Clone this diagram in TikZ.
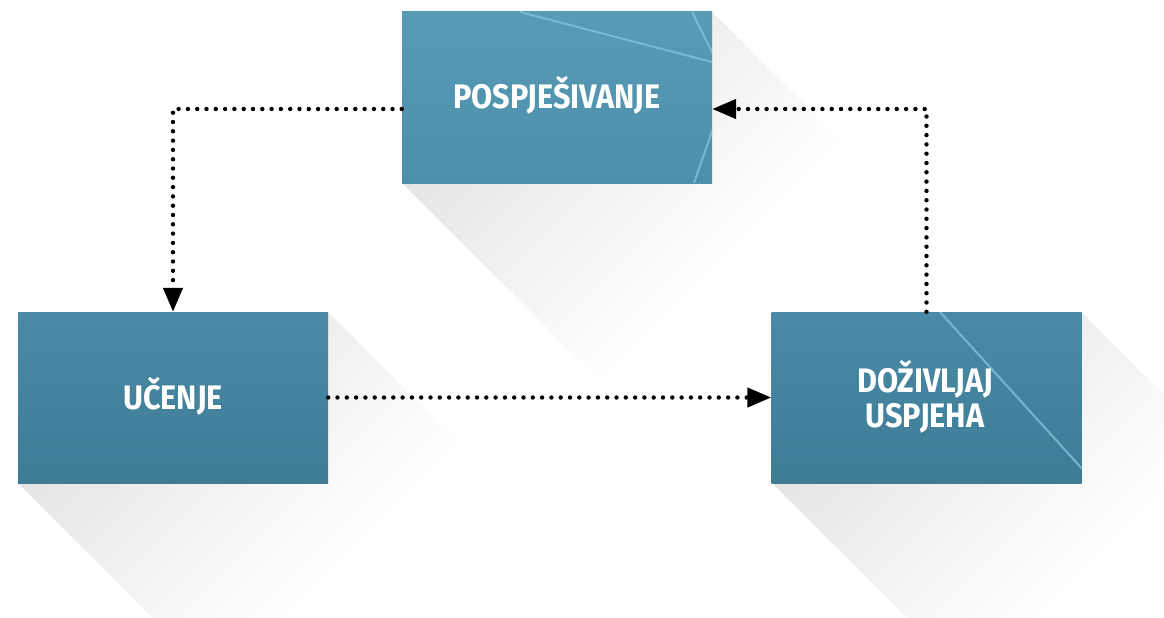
\documentclass[tikz,border=0pt]{standalone}
\usepackage{fontspec}
\usetikzlibrary{arrows.meta}
\newfontfamily\boxfont[FakeStretch=0.9]{Fira Sans}

\definecolor{topA}{RGB}{88,155,183}
\definecolor{botA}{RGB}{77,143,170}
\definecolor{topB}{RGB}{74,138,165}
\definecolor{botB}{RGB}{62,124,150}
\definecolor{streak}{RGB}{128,194,218}

\tikzset{
  panel/.style={draw=none, minimum width=310pt, minimum height=171pt, inner sep=0pt},
  panelA/.style={panel, top color=topA, bottom color=botA},
  panelB/.style={panel, top color=topB, bottom color=botB},
  label/.style={text=white, font=\boxfont\bfseries\fontsize{34}{35}\selectfont, align=center, inner sep=0pt},
  conn/.style={line width=4.4pt, line cap=round, dash pattern=on 0pt off 9.3pt,
               -{Triangle[length=24pt,width=19pt]}},
  streakline/.style={streak, line width=2pt, opacity=0.8}
}

% long shadow of a panel with corners (#1,#2) top left and (#3,#4) bottom right:
% a 45 degree extrusion, lightened in diagonal bands away from the top left corner
\newcommand\longshadow[4]{%
  \begin{scope}
    \clip (#1,#4) -- ({#1+260},{#4+260}) -- ({#3+260},{#4+260}) -- ({#3+260},{#2+260})
          -- (#3,#2) -- (#3,#4) -- cycle;
    \foreach \s in {0,8,...,560}{%
      \pgfmathtruncatemacro\gv{218+0.066*\s}%
      \pgfmathsetmacro\ka{#1+#2+\s}%
      \pgfmathsetmacro\kb{#1+#2+\s+8.6}%
      \fill[color={rgb,255:red,\gv;green,\gv;blue,\gv}]
        ({\ka-#2+20},{#2-20}) -- ({\kb-#2+20},{#2-20})
        -- ({\kb-#2-620},{#2+620}) -- ({\ka-#2-620},{#2+620}) -- cycle;
    }
  \end{scope}}

\begin{document}
\begin{tikzpicture}[x=1pt, y=-1pt]
\useasboundingbox (0,0) rectangle (1164,618);
\begin{scope}
\clip (0,0) rectangle (1164,618);
\longshadow{402}{12}{712}{183}
\longshadow{18}{312}{328}{483}
\longshadow{772}{312}{1081}{483}
\end{scope}

% panels
\node[panelA] (pos) at (557,97.5) {};
\node[panelB] (uce) at (173,397.5) {};
\node[panelB] (doz) at (926.5,397.5) {};

% light streaks across the panels
\begin{scope}
\clip (pos.south west) rectangle (pos.north east);
\draw[streakline] (520,12) -- (712,62);
\draw[streakline] (692,12) -- (716,60);
\draw[streakline] (716,120) -- (694,183);
\end{scope}
\begin{scope}
\clip (doz.south west) rectangle (doz.north east);
\draw[streakline] (940,312) -- (1085,472);
\end{scope}

% labels
\node[label] (posT) at (557,95) {POSPJEŠIVANJE};
\node[label] (uceT) at (173,396) {UČENJE};
\node[label] (dozT) at (925,397) {DOŽIVLJAJ\\USPJEHA};

% cycle of dotted connectors
\draw[conn] ([yshift=-11.5pt]pos.west) -| (uce.north);
\draw[conn] (uce.east) -- (doz.west);
\draw[conn] (doz.north) |- ([yshift=-11.5pt]pos.east);
\end{tikzpicture}
\end{document}
